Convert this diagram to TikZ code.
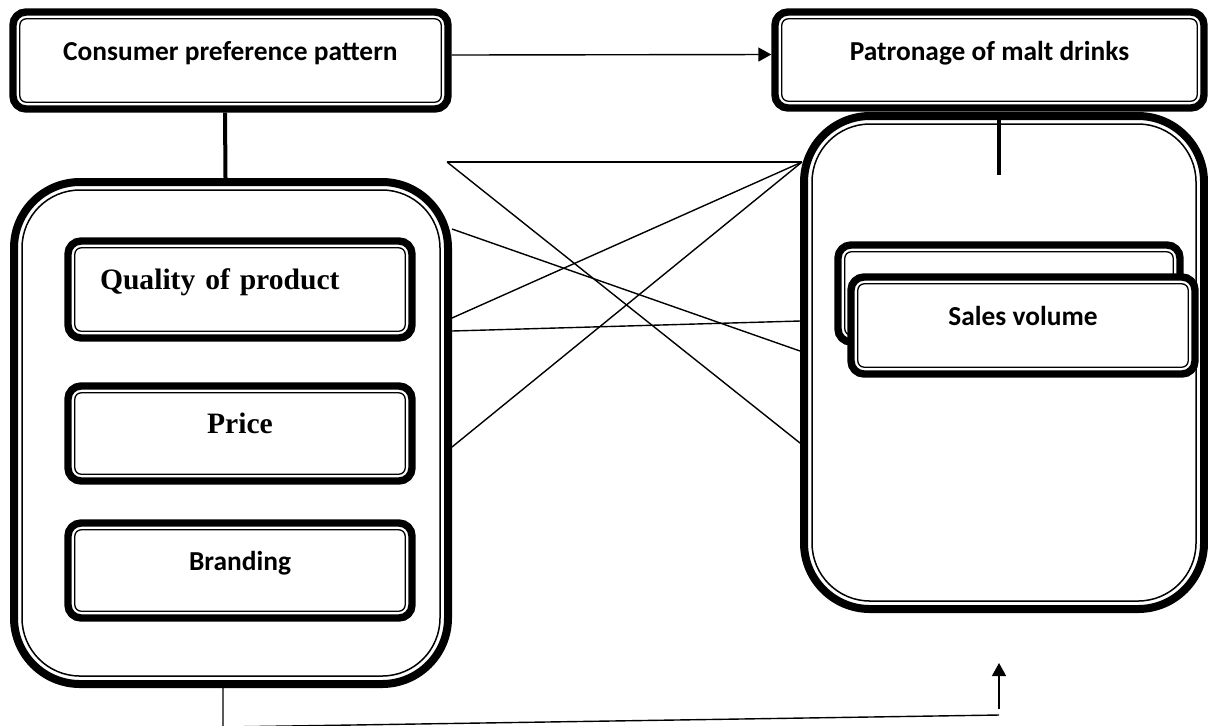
\documentclass[tikz,border=0pt]{standalone}
\usepackage{fontspec}
\setmainfont{Liberation Serif}
\newfontfamily\calibri{Carlito}
\usetikzlibrary{arrows.meta}
\begin{document}
\begin{tikzpicture}[x=0.5pt,y=-0.5pt,
  dbox/.style={draw, line width=3.7pt, rounded corners=6.5pt, fill=white, inner sep=0pt,
    text height=0pt, text depth=0pt,
    path picture={\draw[line width=0.65pt, rounded corners=3.2pt]
      ([shift={(3.4pt,-3.4pt)}]path picture bounding box.north west) rectangle
      ([shift={(-3.4pt,3.4pt)}]path picture bounding box.south east);}},
  bigbox/.style={draw, line width=4pt, rounded corners=33pt, fill=white, inner sep=0pt,
    path picture={\draw[line width=0.75pt, rounded corners=29pt]
      ([shift={(4pt,-4pt)}]path picture bounding box.north west) rectangle
      ([shift={(-4pt,4pt)}]path picture bounding box.south east);}},
  cal/.style={font=\calibri\bfseries\fontsize{13.7pt}{16pt}\selectfont},
  tms/.style={font=\bfseries\fontsize{14.8pt}{18pt}\selectfont},
  conn/.style={line width=0.7pt},
  bar/.style={line width=2pt},
  arr/.style={-{Triangle[length=6.5pt,width=7pt]}}
]
\useasboundingbox (0,0) rectangle (1208,725);
\clip (0,0) rectangle (1208,725);

% boxes
\node[dbox, cal, minimum width=217.5pt, minimum height=48.5pt] (A) at (230.5,60.5) {Consumer preference pattern};
\node[dbox, cal, minimum width=214.5pt, minimum height=48pt] (B) at (989.5,60) {Patronage of malt drinks};
\node[bigbox, minimum width=217pt, minimum height=251pt] (L) at (231,433) {};
\node[bigbox, minimum width=200pt, minimum height=246.5pt] (R) at (1004,362.5) {};
\node[dbox, tms, text width=140pt, align=left, minimum width=172pt, minimum height=48.5pt] (Q) at (240,289.5) {Quality of product};
\node[dbox, tms, minimum width=172pt, minimum height=47.5pt] (P) at (240,433.5) {Price};
\node[dbox, cal, minimum width=172pt, minimum height=47.5pt] (Br) at (240,570.5) {Branding};
\node[dbox, minimum width=171pt, minimum height=48.5pt] (S0) at (1009,293.5) {};
\node[dbox, cal, minimum width=172pt, minimum height=48.5pt] (S) at (1023,325.5) {Sales volume};

% coordinates
\coordinate (rtop) at (999,175);
\coordinate (b1) at (223,727);
\coordinate (b2) at (999,715);
\coordinate (b3) at (999,709);
\coordinate (tip) at (999,663);
\coordinate (c0) at (447,162);
\coordinate (r0) at (802,162);
\coordinate (h1) at (0,229);
\coordinate (h2) at (0,318);
\coordinate (h3) at (0,331);
\coordinate (h4) at (0,447);
\coordinate (k1) at (0,351);
\coordinate (k2) at (0,321);
\coordinate (k3) at (0,443);

% connectors
\draw[conn, arr] ([yshift=2.75pt]A.east) -- ([yshift=2.75pt]B.west);
\draw[bar] ([xshift=-2.75pt]A.south) -- ([xshift=-2.75pt]L.north);
\draw[bar] ([xshift=4.75pt]B.south) -- (rtop);
\draw[conn] ([xshift=-4pt]L.south) -- (b1) -- (b2);
\draw[conn, arr] (b3) -- (tip);

\draw[conn] (c0) -- (r0);
\draw[conn] (c0) -- (R.west |- k3);
\draw[conn] (L.east |- h1) -- (R.west |- k1);
\draw[conn] (L.east |- h2) -- (r0);
\draw[conn] (L.east |- h3) -- (R.west |- k2);
\draw[conn] (L.east |- h4) -- (r0);
\end{tikzpicture}
\end{document}
